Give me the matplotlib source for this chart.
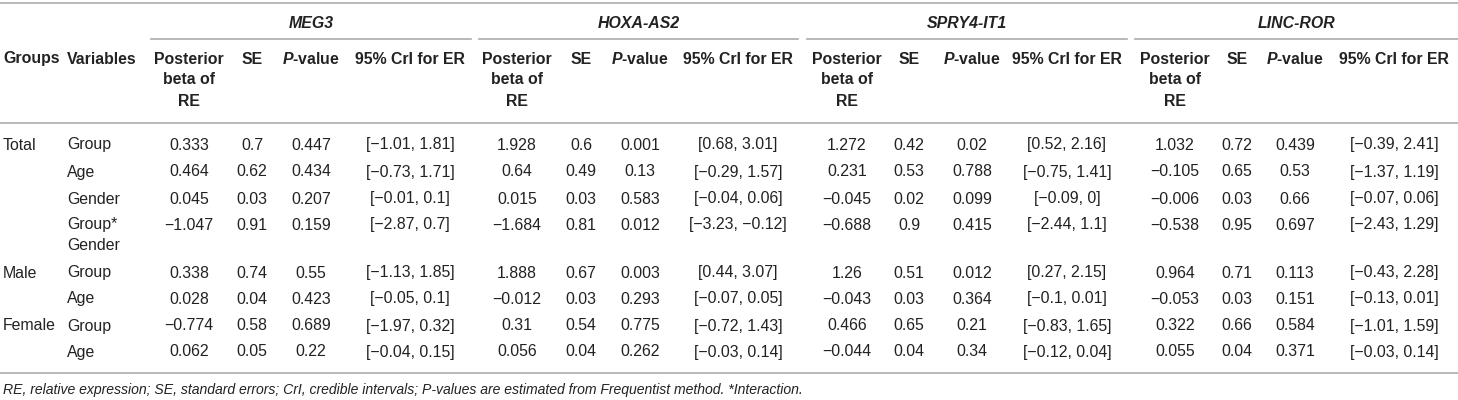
import matplotlib.pyplot as plt

plt.rcParams['font.family'] = ['Liberation Sans', 'DejaVu Sans']
plt.rcParams['mathtext.fontset'] = 'custom'
plt.rcParams['mathtext.it'] = 'Liberation Sans:italic:bold'
plt.rcParams['mathtext.rm'] = 'Liberation Sans:bold'

genes = ['MEG3', 'HOXA-AS2', 'SPRY4-IT1', 'LINC-ROR']
groups = ['Total', '', '', '', 'Male', '', 'Female', '']
variables = ['Group', 'Age', 'Gender', 'Group*\nGender', 'Group', 'Age', 'Group', 'Age']

# one list per gene, rows in the order above
beta = {
    'MEG3': [0.333, 0.464, 0.045, -1.047, 0.338, 0.028, -0.774, 0.062],
    'HOXA-AS2': [1.928, 0.64, 0.015, -1.684, 1.888, -0.012, 0.31, 0.056],
    'SPRY4-IT1': [1.272, 0.231, -0.045, -0.688, 1.26, -0.043, 0.466, -0.044],
    'LINC-ROR': [1.032, -0.105, -0.006, -0.538, 0.964, -0.053, 0.322, 0.055],
}
se = {
    'MEG3': [0.7, 0.62, 0.03, 0.91, 0.74, 0.04, 0.58, 0.05],
    'HOXA-AS2': [0.6, 0.49, 0.03, 0.81, 0.67, 0.03, 0.54, 0.04],
    'SPRY4-IT1': [0.42, 0.53, 0.02, 0.9, 0.51, 0.03, 0.65, 0.04],
    'LINC-ROR': [0.72, 0.65, 0.03, 0.95, 0.71, 0.03, 0.66, 0.04],
}
pval = {
    'MEG3': [0.447, 0.434, 0.207, 0.159, 0.55, 0.423, 0.689, 0.22],
    'HOXA-AS2': [0.001, 0.13, 0.583, 0.012, 0.003, 0.293, 0.775, 0.262],
    'SPRY4-IT1': [0.02, 0.788, 0.099, 0.415, 0.012, 0.364, 0.21, 0.34],
    'LINC-ROR': [0.439, 0.53, 0.66, 0.697, 0.113, 0.151, 0.584, 0.371],
}
cri_lo = {
    'MEG3': [-1.01, -0.73, -0.01, -2.87, -1.13, -0.05, -1.97, -0.04],
    'HOXA-AS2': [0.68, -0.29, -0.04, -3.23, 0.44, -0.07, -0.72, -0.03],
    'SPRY4-IT1': [0.52, -0.75, -0.09, -2.44, 0.27, -0.1, -0.83, -0.12],
    'LINC-ROR': [-0.39, -1.37, -0.07, -2.43, -0.43, -0.13, -1.01, -0.03],
}
cri_hi = {
    'MEG3': [1.81, 1.71, 0.1, 0.7, 1.85, 0.1, 0.32, 0.15],
    'HOXA-AS2': [3.01, 1.57, 0.06, -0.12, 3.07, 0.05, 1.43, 0.14],
    'SPRY4-IT1': [2.16, 1.41, 0, 1.1, 2.15, 0.01, 1.65, 0.04],
    'LINC-ROR': [2.41, 1.19, 0.06, 1.29, 2.28, 0.01, 1.59, 0.14],
}
footnote = ('RE, relative expression; SE, standard errors; CrI, credible intervals; '
            'P-values are estimated from Frequentist method. *Interaction.')

# layout (pixels)
W, H = 1458, 400
row_y = [145, 172, 199, 225, 273, 299, 326, 352]
head_y = [59, 80, 102]
line_gap = 21
col_x = {
    'MEG3': [189, 252, 311, 410],
    'HOXA-AS2': [517, 581, 640, 738],
    'SPRY4-IT1': [847, 909, 972, 1067],
    'LINC-ROR': [1175, 1237, 1295, 1394],
}
span = {'MEG3': (151, 471), 'HOXA-AS2': (479, 798),
        'SPRY4-IT1': (807, 1127), 'LINC-ROR': (1135, W)}
fs = 11.4
txt = '#222222'
rule = '#ababab'


def fmt(v):
    return f'{v:g}'.replace('-', '\u2212')


def cell(x, y, s, ha='center', **kw):
    ax.text(x, y, s, ha=ha, va='center', fontsize=fs, color=txt, **kw)


fig = plt.figure(figsize=(W / 100, H / 100), dpi=100)
ax = fig.add_axes([0, 0, 1, 1])
ax.set_xlim(0, W)
ax.set_ylim(H, 0)
ax.axis('off')

for y in (3, 123, 373):
    ax.plot([0, W], [y, y], color=rule, lw=1.2)

for g in genes:
    a, b = span[g]
    ax.plot([a, b], [39, 39], color=rule, lw=1.2)
    cell((a + b) / 2, 23, g, fontweight='bold', style='italic')
    xs = col_x[g]
    for y, s in zip(head_y, ['Posterior', 'beta of', 'RE']):
        cell(xs[0], y, s, fontweight='bold')
    cell(xs[1], head_y[0], 'SE', fontweight='bold')
    cell(xs[2], head_y[0], '$P$-value', fontweight='bold')
    cell(xs[3], head_y[0], '95% CrI for ER', fontweight='bold')

cell(3, head_y[0], 'Groups', ha='left', fontweight='bold')
cell(67, head_y[0], 'Variables', ha='left', fontweight='bold')

for i, y in enumerate(row_y):
    cell(3, y, groups[i], ha='left')
    for k, part in enumerate(variables[i].split('\n')):
        cell(67, y + k * line_gap, part, ha='left')
    for g in genes:
        vals = [fmt(beta[g][i]), fmt(se[g][i]), fmt(pval[g][i]),
                f'[{fmt(cri_lo[g][i])}, {fmt(cri_hi[g][i])}]']
        for x, s in zip(col_x[g], vals):
            cell(x, y, s)

ax.text(3, 390, footnote, ha='left', va='center', fontsize=10.1,
        style='italic', color=txt)

fig.savefig('out.png', dpi=100)
